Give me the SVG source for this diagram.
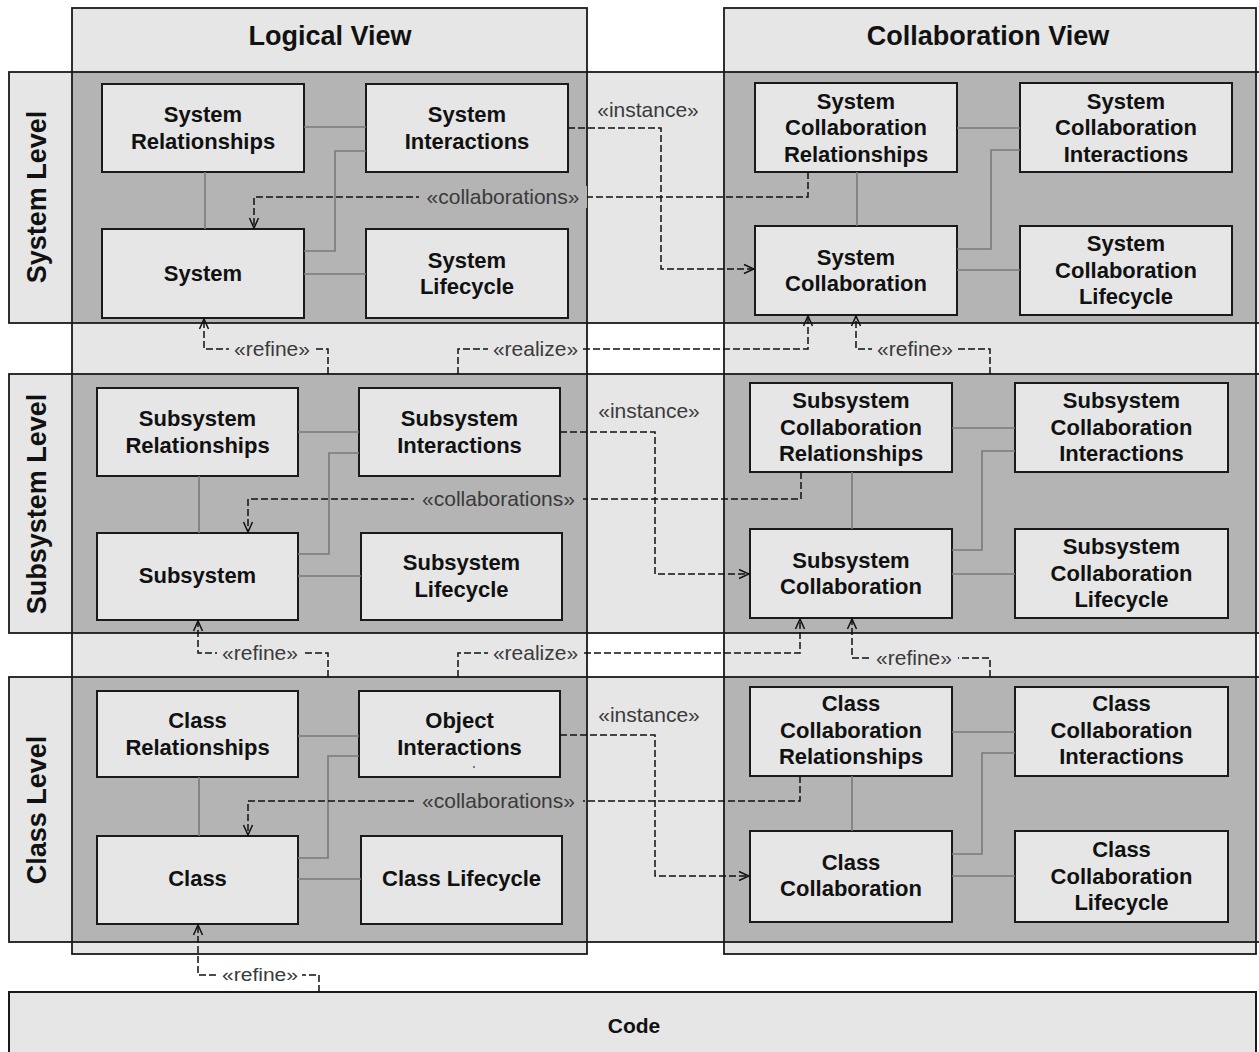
<svg xmlns="http://www.w3.org/2000/svg" width="1259" height="1052" viewBox="0 0 1259 1052">
  <style>
    .band { fill: #e6e6e6; stroke: none; }
    .pkg { fill: #b4b4b4; stroke: none; }
    .edge { fill: none; stroke: #1a1a1a; stroke-width: 1.8; }
    .node rect { fill: #e6e6e6; stroke: #1a1a1a; stroke-width: 2; }
    .node text, .title { font-family: "Liberation Sans", Arial, sans-serif; font-weight: bold; fill: #111; text-anchor: middle; }
    .node text { font-size: 22px; }
    .title { font-size: 27px; }
    .assoc { fill: none; stroke: #7a7a7a; stroke-width: 1.6; }
    .dep { fill: none; stroke: #111; stroke-width: 1.5; stroke-dasharray: 7 3; marker-end: url(#open); }
    .lbl { font-family: "Liberation Sans", Arial, sans-serif; font-size: 21px; fill: #3a3a3a; text-anchor: middle; }
    .bg-dark { fill: #b4b4b4; }
    .bg-light { fill: #e6e6e6; }
    .bg-white { fill: #ffffff; }
  </style>
  <defs>
    <marker id="open" viewBox="0 0 12 12" refX="11" refY="6" markerWidth="12" markerHeight="12" markerUnits="userSpaceOnUse" orient="auto">
      <path d="M1,1.5 L11,6 L1,10.5" fill="none" stroke="#111" stroke-width="1.5"/>
    </marker>
  </defs>

  <rect width="1259" height="1052" fill="#ffffff"/>

  <!-- view columns and level rows -->
  <g id="frames">
    <rect class="band" x="72" y="8" width="515" height="946"/>
    <rect class="band" x="724" y="8" width="532" height="946"/>
    <rect class="band" x="9" y="72" width="1262" height="251"/>
    <rect class="band" x="9" y="374" width="1262" height="259"/>
    <rect class="band" x="9" y="677" width="1262" height="265"/>
    <!-- level/view packages -->
    <rect class="pkg" x="72" y="72" width="515" height="251"/>
    <rect class="pkg" x="724" y="72" width="532" height="251"/>
    <rect class="pkg" x="72" y="374" width="515" height="259"/>
    <rect class="pkg" x="724" y="374" width="532" height="259"/>
    <rect class="pkg" x="72" y="677" width="515" height="265"/>
    <rect class="pkg" x="724" y="677" width="532" height="265"/>
    <!-- outlines -->
    <rect class="edge" x="72" y="8" width="515" height="946"/>
    <rect class="edge" x="724" y="8" width="532" height="946"/>
    <rect class="edge" x="9" y="72" width="1262" height="251"/>
    <rect class="edge" x="9" y="374" width="1262" height="259"/>
    <rect class="edge" x="9" y="677" width="1262" height="265"/>
    <text class="title" x="330" y="45">Logical View</text>
    <text class="title" x="988" y="45">Collaboration View</text>
    <text class="title" x="46" y="197" transform="rotate(-90 46 197)">System Level</text>
    <text class="title" x="46" y="504" transform="rotate(-90 46 504)">Subsystem Level</text>
    <text class="title" x="46" y="810" transform="rotate(-90 46 810)">Class Level</text>
  </g>

  <g id="code" class="node">
    <rect x="9" y="992" width="1247" height="72"/>
    <text x="634" y="1033" style="font-size:21px">Code</text>
  </g>

  <!-- System level -->
  <g id="system-relationships" class="node"><rect x="102" y="84" width="202" height="88"/><text><tspan x="203" y="122">System</tspan><tspan x="203" y="148.5">Relationships</tspan></text></g>
  <g id="system-interactions" class="node"><rect x="366" y="84" width="202" height="88"/><text><tspan x="467" y="122">System</tspan><tspan x="467" y="148.5">Interactions</tspan></text></g>
  <g id="system" class="node"><rect x="102" y="229" width="202" height="89"/><text x="203" y="281">System</text></g>
  <g id="system-lifecycle" class="node"><rect x="366" y="229" width="202" height="89"/><text><tspan x="467" y="267.5">System</tspan><tspan x="467" y="294">Lifecycle</tspan></text></g>
  <g id="system-collaboration-relationships" class="node"><rect x="755" y="83" width="202" height="89"/><text><tspan x="856" y="108.5">System</tspan><tspan x="856" y="135">Collaboration</tspan><tspan x="856" y="161.5">Relationships</tspan></text></g>
  <g id="system-collaboration-interactions" class="node"><rect x="1020" y="83" width="212" height="89"/><text><tspan x="1126" y="108.5">System</tspan><tspan x="1126" y="135">Collaboration</tspan><tspan x="1126" y="161.5">Interactions</tspan></text></g>
  <g id="system-collaboration" class="node"><rect x="755" y="226" width="202" height="89"/><text><tspan x="856" y="264.5">System</tspan><tspan x="856" y="291">Collaboration</tspan></text></g>
  <g id="system-collaboration-lifecycle" class="node"><rect x="1020" y="226" width="212" height="89"/><text><tspan x="1126" y="251">System</tspan><tspan x="1126" y="277.5">Collaboration</tspan><tspan x="1126" y="304">Lifecycle</tspan></text></g>

  <!-- Subsystem level -->
  <g id="subsystem-relationships" class="node"><rect x="97" y="388" width="201" height="88"/><text><tspan x="197.5" y="426">Subsystem</tspan><tspan x="197.5" y="452.5">Relationships</tspan></text></g>
  <g id="subsystem-interactions" class="node"><rect x="359" y="388" width="201" height="88"/><text><tspan x="459.5" y="426">Subsystem</tspan><tspan x="459.5" y="452.5">Interactions</tspan></text></g>
  <g id="subsystem" class="node"><rect x="97" y="533" width="201" height="87"/><text x="197.5" y="583">Subsystem</text></g>
  <g id="subsystem-lifecycle" class="node"><rect x="361" y="533" width="201" height="87"/><text><tspan x="461.5" y="570">Subsystem</tspan><tspan x="461.5" y="596.5">Lifecycle</tspan></text></g>
  <g id="subsystem-collaboration-relationships" class="node"><rect x="750" y="383" width="202" height="89"/><text><tspan x="851" y="408">Subsystem</tspan><tspan x="851" y="434.5">Collaboration</tspan><tspan x="851" y="461">Relationships</tspan></text></g>
  <g id="subsystem-collaboration-interactions" class="node"><rect x="1015" y="383" width="213" height="89"/><text><tspan x="1121.5" y="408">Subsystem</tspan><tspan x="1121.5" y="434.5">Collaboration</tspan><tspan x="1121.5" y="461">Interactions</tspan></text></g>
  <g id="subsystem-collaboration" class="node"><rect x="750" y="529" width="202" height="89"/><text><tspan x="851" y="567.5">Subsystem</tspan><tspan x="851" y="594">Collaboration</tspan></text></g>
  <g id="subsystem-collaboration-lifecycle" class="node"><rect x="1015" y="529" width="213" height="89"/><text><tspan x="1121.5" y="554">Subsystem</tspan><tspan x="1121.5" y="580.5">Collaboration</tspan><tspan x="1121.5" y="607">Lifecycle</tspan></text></g>

  <!-- Class level -->
  <g id="class-relationships" class="node"><rect x="97" y="691" width="201" height="86"/><text><tspan x="197.5" y="728">Class</tspan><tspan x="197.5" y="754.5">Relationships</tspan></text></g>
  <g id="object-interactions" class="node"><rect x="359" y="691" width="201" height="86"/><text><tspan x="459.5" y="728">Object</tspan><tspan x="459.5" y="754.5">Interactions</tspan></text><circle cx="474" cy="767" r="1" fill="#555"/></g>
  <g id="class" class="node"><rect x="97" y="836" width="201" height="88"/><text x="197.5" y="886">Class</text></g>
  <g id="class-lifecycle" class="node"><rect x="361" y="836" width="201" height="88"/><text x="461.5" y="886">Class Lifecycle</text></g>
  <g id="class-collaboration-relationships" class="node"><rect x="750" y="687" width="202" height="89"/><text><tspan x="851" y="711">Class</tspan><tspan x="851" y="737.5">Collaboration</tspan><tspan x="851" y="764">Relationships</tspan></text></g>
  <g id="class-collaboration-interactions" class="node"><rect x="1015" y="687" width="213" height="89"/><text><tspan x="1121.5" y="711">Class</tspan><tspan x="1121.5" y="737.5">Collaboration</tspan><tspan x="1121.5" y="764">Interactions</tspan></text></g>
  <g id="class-collaboration" class="node"><rect x="750" y="831" width="202" height="91"/><text><tspan x="851" y="869.5">Class</tspan><tspan x="851" y="896">Collaboration</tspan></text></g>
  <g id="class-collaboration-lifecycle" class="node"><rect x="1015" y="831" width="213" height="91"/><text><tspan x="1121.5" y="857">Class</tspan><tspan x="1121.5" y="883.5">Collaboration</tspan><tspan x="1121.5" y="910">Lifecycle</tspan></text></g>

  <g id="connectors">
    <!-- associations inside each package -->
    <path class="assoc" d="M304,127 H366 M205,172 V229 M304,251 H335 V151 H366 M304,274 H366"/>
    <path class="assoc" d="M957,128 H1020 M857,172 V226 M957,249 H991 V150 H1020 M957,270 H1020"/>
    <path class="assoc" d="M298,432 H359 M199,476 V533 M298,554 H329 V453 H359 M298,576 H361"/>
    <path class="assoc" d="M952,428 H1015 M852,472 V529 M952,550 H982 V451 H1015 M952,574 H1015"/>
    <path class="assoc" d="M298,736 H359 M199,777 V836 M298,858 H328 V756 H359 M298,879 H361"/>
    <path class="assoc" d="M952,732 H1015 M852,776 V831 M952,854 H982 V753 H1015 M952,876 H1015"/>

    <!-- dependencies -->
    <path class="dep" d="M568,128 H661 V269 H754"/>
    <path class="dep" d="M808,172 V197 H254 V228"/>
    <path class="dep" d="M328,374 V349 H204 V319"/>
    <path class="dep" d="M458,374 V349 H808 V316"/>
    <path class="dep" d="M990,374 V349 H856 V316"/>

    <path class="dep" d="M560,432 H655 V574 H749"/>
    <path class="dep" d="M801,472 V499 H248 V532"/>
    <path class="dep" d="M328,677 V653 H198 V621"/>
    <path class="dep" d="M458,677 V653 H800 V619"/>
    <path class="dep" d="M990,677 V658 H852 V619"/>

    <path class="dep" d="M560,735 H655 V876 H749"/>
    <path class="dep" d="M800,776 V801 H248 V835"/>
    <path class="dep" d="M319,992 V975 H198 V925"/>

    <!-- stereotype labels -->
    <text class="lbl" x="648" y="117">«instance»</text>
    <rect class="bg-dark" x="419" y="186" width="168" height="22"/>
    <text class="lbl" x="503" y="204">«collaborations»</text>
    <rect class="bg-light" x="229" y="340" width="87" height="20"/>
    <text class="lbl" x="272" y="356">«refine»</text>
    <rect class="bg-light" x="488" y="340" width="95" height="20"/>
    <text class="lbl" x="535.5" y="356">«realize»</text>
    <rect class="bg-light" x="872" y="340" width="86" height="20"/>
    <text class="lbl" x="915" y="356">«refine»</text>

    <text class="lbl" x="649" y="418">«instance»</text>
    <rect class="bg-dark" x="414" y="488" width="169" height="22"/>
    <text class="lbl" x="498.5" y="506">«collaborations»</text>
    <rect class="bg-light" x="217" y="644" width="86" height="20"/>
    <text class="lbl" x="260" y="660">«refine»</text>
    <rect class="bg-light" x="488" y="644" width="95" height="20"/>
    <text class="lbl" x="535.5" y="660">«realize»</text>
    <rect class="bg-light" x="870" y="649" width="88" height="20"/>
    <text class="lbl" x="914" y="665">«refine»</text>

    <text class="lbl" x="649" y="722">«instance»</text>
    <rect class="bg-dark" x="414" y="790" width="169" height="22"/>
    <text class="lbl" x="498.5" y="808">«collaborations»</text>

    <rect class="bg-white" x="218" y="966" width="84" height="20"/>
    <text class="lbl" x="260" y="981" style="font-size:18px" textLength="76" lengthAdjust="spacingAndGlyphs">«refine»</text>
  </g>
</svg>
